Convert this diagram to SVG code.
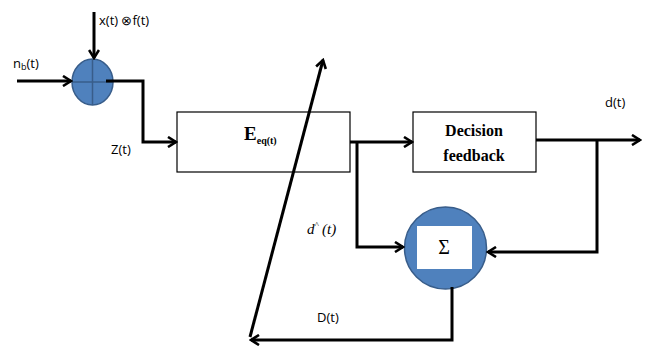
<svg xmlns="http://www.w3.org/2000/svg" width="648" height="349" viewBox="0 0 648 349">
<defs>
<style>
.w{fill:none;stroke:#000;stroke-width:3;stroke-linejoin:miter}
.box{fill:#fff;stroke:#000;stroke-width:1.2}
.circ{fill:#4F81BD;stroke:#385D8A;stroke-width:1.5}
.lbl{font-family:"Open Sans","Liberation Sans",Arial,sans-serif;font-size:13px;fill:#000}
.tnr{font-family:"Liberation Serif","Times New Roman",serif;font-weight:bold;fill:#000}
</style>
<marker id="ah" viewBox="0 0 12 12" refX="10" refY="6" markerWidth="12" markerHeight="12" markerUnits="userSpaceOnUse" orient="auto">
<path d="M2,1 L10,6 L2,11" fill="none" stroke="#000" stroke-width="2.6"/>
</marker>
</defs>
<rect width="648" height="349" fill="#fff"/>
<g id="sum">
<ellipse class="circ" cx="92.5" cy="82" rx="20.5" ry="23"/>
<path d="M72,82 L113,82 M92.5,59 L92.5,105" stroke="#385D8A" stroke-width="1.5"/>
</g>
<g id="eeq">
<rect class="box" x="177" y="112" width="173" height="60"/>
<text class="tnr" x="244" y="140" font-size="19">E<tspan font-size="10" dy="4">eq(t)</tspan></text>
</g>
<g id="decision">
<rect class="box" x="413" y="112" width="123" height="60"/>
<text class="tnr" x="474" y="136" font-size="16" text-anchor="middle">Decision</text>
<text class="tnr" x="474" y="161" font-size="16" text-anchor="middle">feedback</text>
</g>
<g id="sigma">
<circle class="circ" cx="445.5" cy="248" r="41"/>
<rect x="417" y="226" width="55" height="43" fill="#fff"/>
<text x="444" y="254" font-family="Liberation Serif, Times New Roman, serif" font-size="20" text-anchor="middle" fill="#000">Σ</text>
</g>
<g id="connectors">
<path class="w" d="M17,81 L71,81" marker-end="url(#ah)"/>
<path class="w" d="M94,12 L94,58" marker-end="url(#ah)"/>
<path class="w" d="M106,81 L143,81 L143,142 L176,142" marker-end="url(#ah)"/>
<path class="w" d="M350,142 L412,142" marker-end="url(#ah)"/>
<path class="w" d="M357,142 L357,247 L403,247" marker-end="url(#ah)"/>
<path class="w" d="M536,140 L640,140" marker-end="url(#ah)"/>
<path class="w" d="M597,140 L597,252 L488,252" marker-end="url(#ah)"/>
<path class="w" d="M452,287 L452,340 L251,340" marker-end="url(#ah)"/>
<path class="w" d="M250,337 L323,60" marker-end="url(#ah)"/>
</g>
<g id="labels">
<text class="lbl" x="99" y="25" font-size="14">x(t) ⊗f(t)</text>
<text class="lbl" x="13" y="68">n<tspan font-size="9" dy="2">b</tspan><tspan dy="-2">(t)</tspan></text>
<text class="lbl" x="111" y="154">Z(t)</text>
<text class="lbl" x="605" y="107">d(t)</text>
<text x="307" y="234" font-family="Liberation Serif, Times New Roman, serif" font-style="italic" font-size="15" fill="#000">d<tspan font-size="9" dy="-6">^</tspan><tspan dy="6"> (t)</tspan></text>
<text class="lbl" x="317" y="322">D(t)</text>
</g>
</svg>
